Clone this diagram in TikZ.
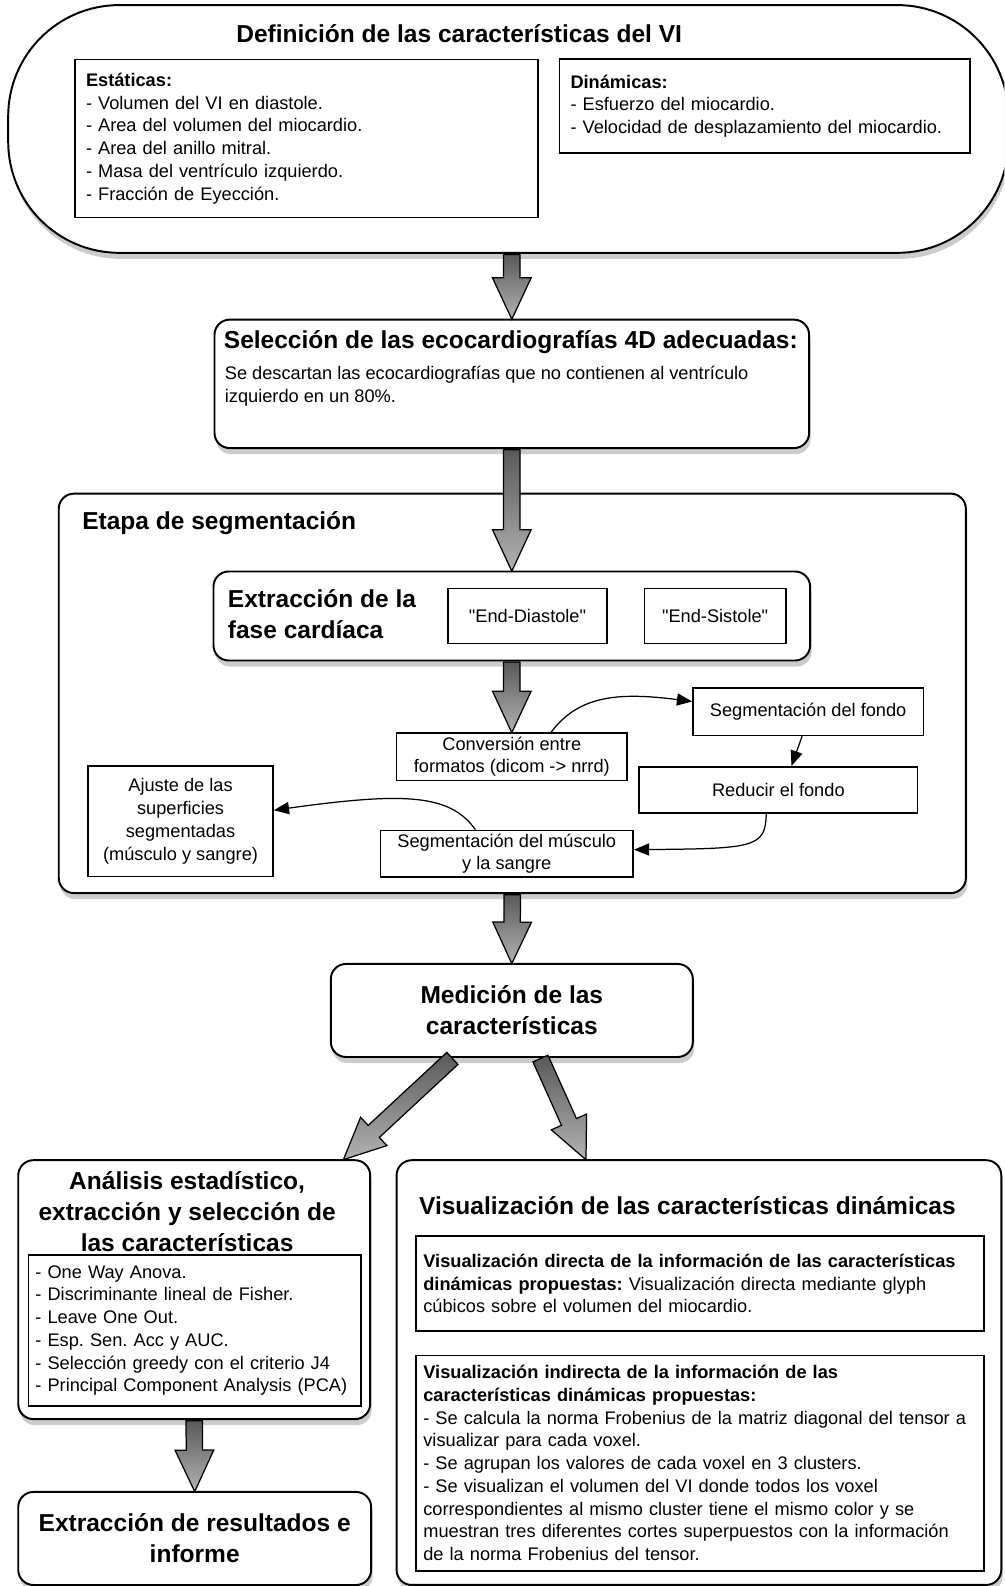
\documentclass[tikz,border=0pt]{standalone}
\usepackage{fontspec}
\setmainfont{Liberation Sans}
\usetikzlibrary{calc, positioning, arrows.meta, shapes.arrows, shadows}
\frenchspacing

% thick grey arrow between two points
\newcommand{\bigarrow}[2]{%
  \path let \p1=(#1), \p2=(#2),
    \n1={veclen(\x2-\x1,\y2-\y1)}, \n2={atan2(\y2-\y1,\x2-\x1)} in
    (\p1) node[fatarrow, anchor=tail, minimum height=\n1, rotate=\n2] {};}

\begin{document}
\begin{tikzpicture}[x=0.02cm, y=-0.02cm,
  body/.style={font=\fontsize{10.25}{12.8}\selectfont},
  head/.style={font=\fontsize{13.8}{17.6}\selectfont\bfseries},
  plainbox/.style={draw, line width=0.9pt, fill=white, inner ysep=0pt, body},
  roundbox/.style={draw, line width=1.1pt, rounded corners=0.3cm, fill=white, inner ysep=0pt,
    drop shadow={shadow xshift=0.03cm, shadow yshift=-0.12cm, opacity=0.4}},
  fatarrow/.style={single arrow, draw, line width=0.7pt, top color=black!65, bottom color=black!30,
    minimum width=0pt, inner xsep=0pt, inner ysep=0.15cm,
    single arrow head extend=0.22cm, single arrow tip angle=50},
  thinarrow/.style={line width=0.7pt, -{Triangle[length=0.3cm, width=0.24cm]}}]

  \useasboundingbox (0,0) rectangle (993,1568);
  \clip (0,0) rectangle (993,1568);

  % definition of the features
  \node[roundbox, rounded corners=2.2cm, minimum width=19.78cm, minimum height=4.9cm] (defn) at (502.5,127.5) {};
  \node[head] (deftitle) at (454,33) {Definición de las características del VI};
  \node[plainbox, align=left, text width=8.72cm, inner xsep=0.22cm, minimum height=3.12cm] (estat) at (303,137)
    {\textbf{Estáticas:}\\- Volumen del VI en diastole.\\- Area del volumen del miocardio.\\- Area del anillo mitral.\\- Masa del ventrículo izquierdo.\\- Fracción de Eyección.};
  \node[plainbox, align=left, text width=7.68cm, inner xsep=0.22cm, minimum height=1.86cm] (dinam) at (756,105)
    {\textbf{Dinámicas:}\\- Esfuerzo del miocardio.\\- Velocidad de desplazamiento del miocardio.};

  % selection
  \node[roundbox, minimum width=11.76cm, minimum height=2.54cm] (sel) at (506,379.5) {};
  \node[head, anchor=west, inner sep=0pt] (seltitle) at (221,338) {Selección de las ecocardiografías 4D adecuadas:};
  \node[body, anchor=west, align=left, inner sep=0pt] (seltext) at (222,382)
    {Se descartan las ecocardiografías que no contienen al ventrículo\\izquierdo en un 80\%.};

  % segmentation stage
  \node[roundbox, minimum width=17.94cm, minimum height=7.9cm] (etapa) at (506.5,685.5) {};
  \node[head, anchor=west, inner sep=0pt] (etapatitle) at (81,517) {Etapa de segmentación};
  \node[roundbox, minimum width=11.8cm, minimum height=1.76cm] (fase) at (506,609) {};
  \node[head, anchor=west, align=left, inner sep=0pt] (fasetitle) at (225,607) {Extracción de la\\fase cardíaca};
  \node[plainbox, minimum width=3.14cm, minimum height=1.08cm] (endd) at (521.5,609) {\textquotedbl End-Diastole\textquotedbl};
  \node[plainbox, minimum width=2.8cm, minimum height=1.08cm] (ends) at (707,609) {\textquotedbl End-Sistole\textquotedbl};
  \node[plainbox, align=center, minimum width=4.56cm, minimum height=0.94cm] (conv) at (506,748)
    {Conversión entre\\formatos (dicom -> nrrd)};
  \node[plainbox, minimum width=4.56cm, minimum height=0.94cm] (fondo) at (799,703.5) {Segmentación del fondo};
  \node[plainbox, minimum width=5.5cm, minimum height=0.92cm] (reduc) at (769.5,781) {Reducir el fondo};
  \node[plainbox, align=center, minimum width=5.0cm, minimum height=0.92cm] (musc) at (501,844)
    {Segmentación del músculo\\y la sangre};
  \node[plainbox, align=center, minimum width=3.66cm, minimum height=2.18cm] (ajuste) at (178.5,812)
    {Ajuste de las\\superficies\\segmentadas\\(músculo y sangre)};

  % measurement
  \node[roundbox, head, align=center, minimum width=7.16cm, minimum height=1.84cm] (medic) at (506,999)
    {Medición de las\\características};

  % statistics
  \node[roundbox, minimum width=6.96cm, minimum height=5.12cm] (anal) at (192,1275) {};
  \node[head, align=center, inner sep=0pt] (analtitle) at (185,1198)
    {Análisis estadístico,\\extracción y selección de\\las características};
  \node[plainbox, align=left, text width=6.3cm, inner xsep=0.14cm, minimum height=2.98cm] (analin) at (192.5,1315.5)
    {- One Way Anova.\\- Discriminante lineal de Fisher.\\- Leave One Out.\\- Esp. Sen. Acc y AUC.\\- Selección greedy con el criterio J4\\- Principal Component Analysis (PCA)};
  \node[roundbox, head, align=center, minimum width=6.98cm, minimum height=1.84cm] (resul) at (192.5,1521)
    {Extracción de resultados e\\informe};

  % visualisation
  \node[roundbox, minimum width=11.96cm, minimum height=8.4cm] (visu) at (691,1357) {};
  \node[head, anchor=west, inner sep=0pt] (visutitle) at (414,1192) {Visualización de las características dinámicas};
  \node[plainbox, align=left, text width=10.94cm, inner xsep=0.15cm, minimum height=1.88cm] (visdir) at (692,1269)
    {\textbf{Visualización directa de la información de las características}\\\textbf{dinámicas propuestas:} Visualización directa mediante glyph\\cúbicos sobre el volumen del miocardio.};
  \node[plainbox, align=left, text width=10.94cm, inner xsep=0.15cm, minimum height=4.26cm] (visind) at (692,1446.5)
    {\textbf{Visualización indirecta de la información de las}\\\textbf{características dinámicas propuestas:}\\- Se calcula la norma Frobenius de la matriz diagonal del tensor a\\visualizar para cada voxel.\\- Se agrupan los valores de cada voxel en 3 clusters.\\- Se visualizan el volumen del VI donde todos los voxel\\correspondientes al mismo cluster tiene el mismo color y se\\muestran tres diferentes cortes superpuestos con la información\\de la norma Frobenius del tensor.};

  % big arrows
  \bigarrow{defn.south -| sel.north}{sel.north}
  \bigarrow{sel.south}{fase.north}
  \bigarrow{fase.south}{conv.north}
  \bigarrow{etapa.south}{medic.north}
  \bigarrow{$(medic.south west)!0.338!(medic.south east)$}{$(anal.north east)+(-27,0)$}
  \bigarrow{$(medic.south west)!0.578!(medic.south east)$}{$(visu.north west)+(188,0)$}
  \bigarrow{anal.south}{resul.north}

  % thin arrows
  \draw[thinarrow] ($(conv.north)+(39,0)$) .. controls (572,688) and (610,684) .. ($(fondo.west)+(0,-10)$);
  \draw[thinarrow] ($(fondo.south)+(-6,0)$) -- ($(reduc.north)+(13,0)$);
  \draw[thinarrow] ($(reduc.south)+(-12,0)$) .. controls (757,838) and (745,839) .. ($(musc.east)+(0,-4)$);
  \draw[thinarrow] ($(musc.north)+(-31,0)$) .. controls (445,785) and (400,783) .. ($(ajuste.east)+(0,-11)$);
\end{tikzpicture}
\end{document}
